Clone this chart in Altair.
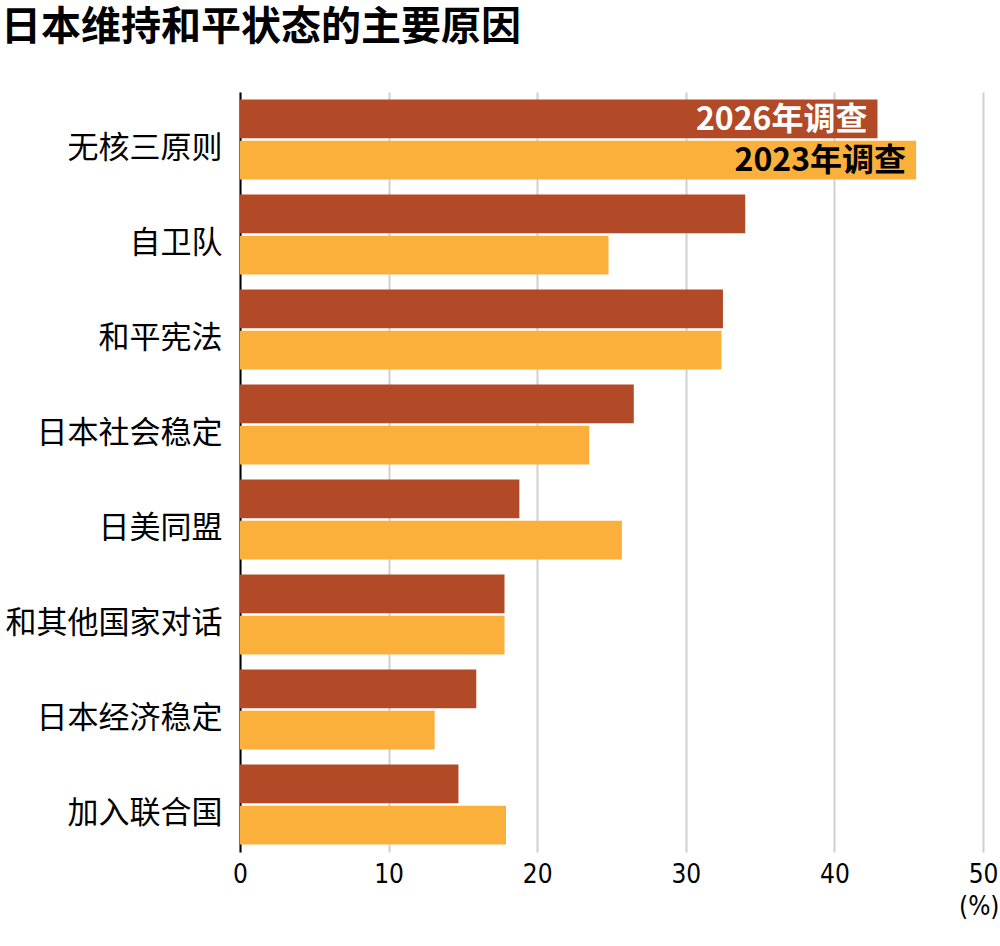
import altair as alt
import pandas as pd

categories = ["无核三原则", "自卫队", "和平宪法", "日本社会稳定", "日美同盟", "和其他国家对话", "日本经济稳定", "加入联合国"]
series = ["2026年调查", "2023年调查"]
values_2026 = [42.9, 34.0, 32.5, 26.5, 18.8, 17.8, 15.9, 14.7]
values_2023 = [45.5, 24.8, 32.4, 23.5, 25.7, 17.8, 13.1, 17.9]
x_ticks = [0, 10, 20, 30, 40, 50]
colors = ["#B34A27", "#FBB03B"]
label_colors = ["#FFFFFF", "#000000"]

rows = []
for c, a, b in zip(categories, values_2026, values_2023):
    rows.append({"cat": c, "series": series[0], "value": a})
    rows.append({"cat": c, "series": series[1], "value": b})
df = pd.DataFrame(rows)

FONT = "Noto Sans CJK SC"
NUMFONT = "DejaVu Sans Condensed"

y_enc = alt.Y("cat:N", sort=categories,
              scale=alt.Scale(paddingInner=0.16, paddingOuter=0.08),
              axis=alt.Axis(title=None, labelFont=FONT, labelFontSize=31, labelColor="#000",
                            labelPadding=18, labelOffset=9, ticks=False, domain=True, domainColor="#000",
                            domainWidth=2, labelLimit=400))
yoff_enc = alt.YOffset("series:N", sort=series, scale=alt.Scale(paddingInner=0.06))

bars = alt.Chart(df).mark_bar().encode(
    x=alt.X("value:Q", scale=alt.Scale(domain=[0, 50], nice=False),
            axis=alt.Axis(values=x_ticks, title="(%)", titleFont=NUMFONT,
                          titleFontSize=26, titleFontWeight="normal", titleColor="#000",
                          titleX=759, titleY=54, titleAlign="right", titleBaseline="middle",
                          labelFont=NUMFONT, labelFontSize=26, labelColor="#000",
                          labelPadding=9, labelFlush=False, labelOverlap=False, ticks=False, domain=False,
                          grid=True, gridColor="#d0d0d0", gridWidth=2)),
    y=y_enc,
    yOffset=yoff_enc,
    color=alt.Color("series:N", sort=series, scale=alt.Scale(domain=series, range=colors), legend=None),
)

labels = alt.Chart(df).transform_filter(
    alt.datum.cat == categories[0]
).mark_text(align="right", baseline="middle", dx=-10, dy=1, font=FONT, fontSize=32, fontWeight="bold").encode(
    x="value:Q",
    y=alt.Y("cat:N", sort=categories),
    yOffset=yoff_enc,
    text="series:N",
    color=alt.Color("series:N", sort=series, scale=alt.Scale(domain=series, range=label_colors), legend=None),
)

chart = alt.layer(bars, labels).resolve_scale(color="independent").properties(
    width=743, height=760,
    autosize=alt.AutoSizeParams(type="none"),
    padding={"left": 240, "top": 92, "right": 17, "bottom": 94},
    title=alt.TitleParams("日本维持和平状态的主要原因", anchor="start", frame="group", dx=-239,
                          offset=44, font=FONT, fontSize=40, fontWeight="bold", color="#000"),
).configure_view(stroke=None)

chart.save("out.html", embed_options={"renderer": "svg", "actions": False})
